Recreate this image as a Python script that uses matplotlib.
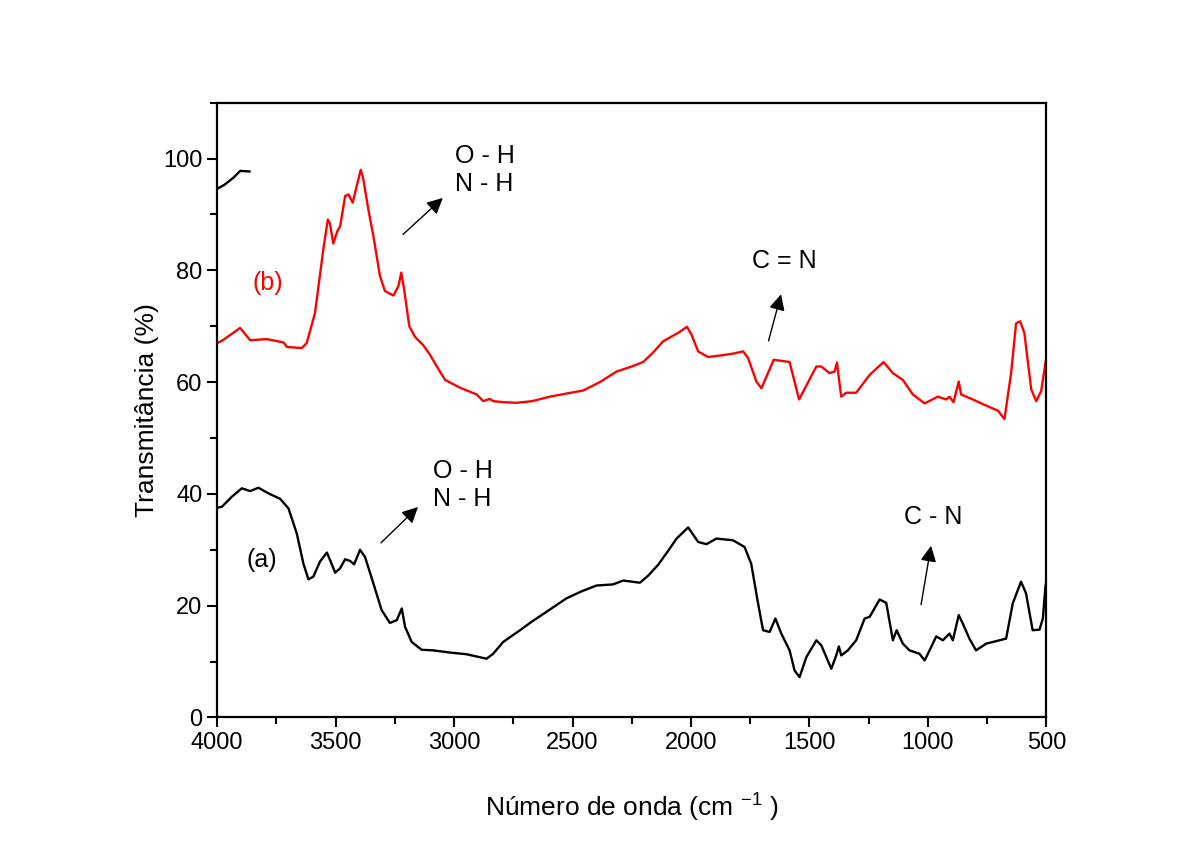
import matplotlib
matplotlib.use("Agg")
from matplotlib import pyplot as plt
from matplotlib.ticker import MultipleLocator

plt.rcParams['font.family'] = ['Liberation Sans', 'DejaVu Sans']

# espectro (b) - vermelho
wn_b = [4000, 3980, 3903, 3861, 3790, 3720, 3706, 3643, 3622, 3587, 3552, 3533, 3524,
        3510, 3493, 3481, 3460, 3446, 3428, 3411, 3394, 3383, 3362, 3341, 3313, 3292,
        3256, 3235, 3223, 3211, 3189, 3165, 3130, 3102, 3070, 3038, 2975, 2905, 2877,
        2850, 2835, 2790, 2736, 2670, 2596, 2520, 2455, 2385, 2314, 2250, 2202, 2160,
        2118, 2055, 2017, 1998, 1970, 1928, 1870, 1823, 1780, 1759, 1724, 1703, 1651,
        1584, 1544, 1471, 1450, 1415, 1394, 1384, 1376, 1366, 1345, 1303, 1246, 1187,
        1148, 1106, 1064, 1014, 958, 923, 909, 892, 870, 860, 811, 754, 705, 677, 649,
        628, 611, 593, 564, 543, 522, 504, 500]
tr_b = [67.0, 67.4, 69.7, 67.5, 67.7, 67.1, 66.3, 66.1, 67.0, 72.4, 83.8, 89.1, 88.4,
        84.8, 87.0, 87.9, 93.3, 93.6, 92.1, 95.1, 98.0, 96.3, 90.9, 86.2, 79.0, 76.3,
        75.5, 77.2, 79.6, 76.6, 70.0, 68.1, 66.6, 64.9, 62.6, 60.4, 59.0, 57.8, 56.6,
        57.0, 56.6, 56.4, 56.3, 56.6, 57.4, 58.0, 58.5, 60.0, 61.9, 62.8, 63.6, 65.3,
        67.3, 68.8, 69.9, 68.5, 65.5, 64.5, 64.8, 65.1, 65.5, 64.3, 60.1, 58.9, 64.0,
        63.6, 56.9, 62.8, 62.8, 61.6, 61.9, 63.5, 60.7, 57.4, 58.1, 58.1, 61.3, 63.6,
        61.6, 60.4, 57.8, 56.2, 57.4, 56.9, 57.4, 56.4, 60.1, 57.8, 56.9, 55.8, 54.9,
        53.4, 61.6, 70.5, 70.9, 68.8, 58.7, 56.6, 58.4, 63.4, 64.5]

# espectro (a) - preto
wn_a = [4000, 3980, 3938, 3896, 3861, 3826, 3784, 3734, 3699, 3664, 3636, 3615, 3594,
        3566, 3537, 3521, 3502, 3481, 3460, 3439, 3422, 3397, 3376, 3341, 3306, 3271,
        3242, 3221, 3207, 3179, 3137, 3088, 3017, 2947, 2905, 2863, 2835, 2793, 2722,
        2670, 2610, 2526, 2460, 2399, 2329, 2286, 2216, 2180, 2139, 2100, 2061, 2012,
        1970, 1935, 1893, 1823, 1774, 1746, 1717, 1696, 1668, 1644, 1619, 1584, 1563,
        1542, 1513, 1471, 1450, 1408, 1387, 1376, 1366, 1338, 1303, 1267, 1246, 1204,
        1176, 1148, 1132, 1106, 1078, 1036, 1014, 993, 965, 937, 909, 895, 870, 853, 825,
        797, 754, 670, 642, 607, 586, 558, 529, 515, 504, 500]
tr_a = [37.5, 37.7, 39.5, 41.0, 40.5, 41.1, 40.1, 39.1, 37.4, 32.9, 27.5, 24.7, 25.2,
        27.9, 29.5, 27.9, 25.9, 26.7, 28.3, 28.0, 27.4, 30.0, 28.7, 24.0, 19.2, 16.9,
        17.4, 19.5, 16.2, 13.5, 12.1, 12.0, 11.6, 11.3, 10.9, 10.5, 11.4, 13.5, 15.6,
        17.2, 18.9, 21.3, 22.6, 23.6, 23.8, 24.5, 24.1, 25.4, 27.3, 29.6, 32.0, 34.0,
        31.4, 31.0, 32.0, 31.7, 30.5, 27.5, 20.4, 15.6, 15.3, 17.7, 15.0, 12.0, 8.4,
        7.2, 10.8, 13.8, 12.9, 8.7, 11.1, 12.7, 11.1, 12.0, 13.8, 17.7, 18.0, 21.1,
        20.5, 13.8, 15.6, 13.2, 12.0, 11.4, 10.2, 12.0, 14.5, 13.8, 15.0, 13.8, 18.3,
        16.8, 14.1, 12.0, 13.2, 14.1, 20.4, 24.3, 22.2, 15.6, 15.7, 17.7, 23.4, 24.5]

# pedaco solto no topo
wn_c = [4000, 3970, 3931, 3903, 3864]
tr_c = [94.6, 95.3, 96.6, 97.8, 97.7]

fig, ax = plt.subplots(figsize=(12, 8.49), dpi=100)
fig.subplots_adjust(left=0.181, right=0.872, top=0.879, bottom=0.155)

ax.plot(wn_b, tr_b, color='red', lw=1.7)
ax.plot(wn_a, tr_a, color='black', lw=1.7)
ax.plot(wn_c, tr_c, color='black', lw=1.7)

ax.set_xlim(4000, 500)
ax.set_ylim(0, 110)
ax.xaxis.set_major_locator(MultipleLocator(500))
ax.xaxis.set_minor_locator(MultipleLocator(250))
ax.yaxis.set_minor_locator(MultipleLocator(10))
ax.set_yticks([0, 20, 40, 60, 80, 100])
ax.tick_params(which='both', direction='out', width=1.5, labelsize=17)
ax.tick_params(which='major', length=7)
ax.tick_params(which='minor', length=5)
for s in ax.spines.values():
    s.set_linewidth(1.6)

ax.set_xlabel('Número de onda (cm $^{\\mathregular{-1}}$ )', fontsize=19, labelpad=26)
ax.set_ylabel('Transmitância (%)', fontsize=19, labelpad=3)

ax.text(3785, 77.8, '(b)', color='red', fontsize=18, ha='center', va='center')
ax.text(3810, 28.2, '(a)', color='black', fontsize=18, ha='center', va='center')

arr = dict(arrowstyle='-|>', color='black', lw=1, mutation_scale=24)
ax.text(2996, 97.9, 'O - H\nN - H', fontsize=18, ha='left', va='center', linespacing=1.2)
ax.annotate('', xy=(3039, 93.3), xytext=(3224, 86.1), arrowprops=arr)
ax.text(3089, 41.6, 'O - H\nN - H', fontsize=18, ha='left', va='center', linespacing=1.2)
ax.annotate('', xy=(3144, 38.0), xytext=(3317, 30.9), arrowprops=arr)
ax.text(1744, 81.6, 'C = N', fontsize=18, ha='left', va='center')
ax.annotate('', xy=(1617, 76.2), xytext=(1676, 66.9), arrowprops=arr)
ax.text(1099, 35.9, 'C - N', fontsize=18, ha='left', va='center')
ax.annotate('', xy=(985, 31.2), xytext=(1031, 19.7), arrowprops=arr)

fig.savefig('out.png', dpi=100)
